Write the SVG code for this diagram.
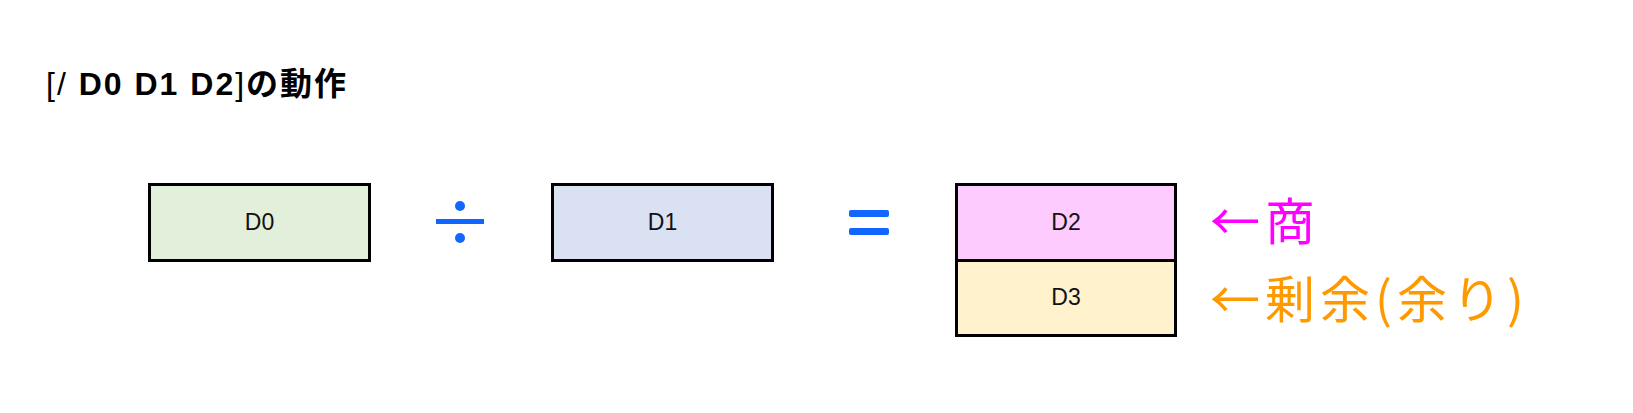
<svg xmlns="http://www.w3.org/2000/svg" width="1633" height="413" viewBox="0 0 1633 413">
<style>
.b{stroke:#000;stroke-width:3}
.t{font-family:"Liberation Sans","Noto Sans CJK JP",sans-serif;font-size:23px;text-anchor:middle;fill:#111}
.op{fill:#1166ff}
</style>
<rect width="1633" height="413" fill="#fff"/>
<text x="46" y="95" font-family="'Liberation Sans','Noto Sans CJK JP',sans-serif" font-size="32" fill="#000" letter-spacing="2"><tspan>[/ </tspan><tspan font-weight="bold">D0 D1 D2</tspan><tspan>]</tspan><tspan font-weight="bold">の動作</tspan></text>
<g id="d0"><rect class="b" x="149.5" y="184.5" width="220" height="76" fill="#e2efda"/><text class="t" x="259.5" y="230">D0</text></g>
<g id="div"><rect class="op" x="436" y="219" width="48" height="5"/><circle class="op" cx="460" cy="206" r="5"/><circle class="op" cx="460" cy="238" r="5"/></g>
<g id="d1"><rect class="b" x="552.5" y="184.5" width="220" height="76" fill="#dae1f2"/><text class="t" x="662.5" y="230">D1</text></g>
<g id="eq"><rect class="op" x="849" y="210" width="40" height="7" rx="2"/><rect class="op" x="849" y="228" width="40" height="7" rx="2"/></g>
<g id="d2"><rect class="b" x="956.5" y="184.5" width="219" height="76" fill="#fdcbfd"/><text class="t" x="1066" y="230">D2</text></g>
<g id="d3"><rect class="b" x="956.5" y="260.5" width="219" height="75" fill="#fff2cc"/><text class="t" x="1066" y="305">D3</text></g>
<g id="labels" font-family="'Noto Sans CJK JP',sans-serif" font-size="50" letter-spacing="5">
<text x="1210" y="240" fill="#ff00ff">←商</text>
<text x="1210" y="318" fill="#ff9900">←剰余(余り)</text>
</g>
</svg>
